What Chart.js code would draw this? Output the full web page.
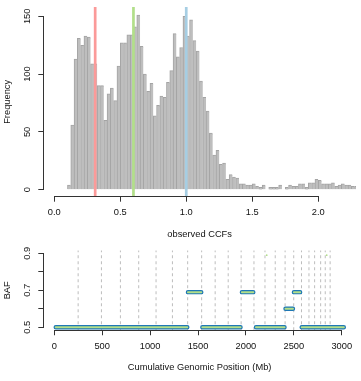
<!DOCTYPE html>
<html>
<head>
<meta charset="utf-8">
<script src="https://cdn.jsdelivr.net/npm/chart.js@4"></script>
<style>
html,body{margin:0;padding:0;background:#fff;}
#wrap{position:relative;width:361px;height:381px;overflow:hidden;}
canvas{position:absolute;left:0;}
#c1{top:0;}
#c2{top:245px;}
</style>
</head>
<body>
<div id="wrap">
<canvas id="c1" width="361" height="245"></canvas>
<canvas id="c2" width="361" height="136"></canvas>
</div>
<script>
// ---------- Data: histogram of observed CCFs ----------
const ccfBinStart = 0.1;
const ccfBinWidth = 0.025;
const ccfCounts = [
  4,56,113,131,125,133,132,109,109,90,90,60,83,88,77,107,127,
  127,134,134,141,151,124,100,85,92,64,73,81,80,93,103,135,115,123,
  150,133,147,129,120,94,80,68,49,30,34,22,23,9,13,11,10,
  5,5,4,4,5,3,2,4,0,2,2,2,4,0,2,4,3,3,
  5,5,2,6,6,9,8,5,5,5,6,3,4,5,4,4,3,3
];
const ccfMarkers = [0.31, 0.6, 1.0];
const ccfMarkerColors = ['#FB9A99', '#B2DF8A', '#A6CEE3'];
const ccfXTicks = [0, 0.5, 1.0, 1.5, 2.0];
const ccfXTickLabels = ['0.0', '0.5', '1.0', '1.5', '2.0'];
const freqYTicks = [0, 50, 100, 150];
const freqYTickLabels = ['0', '50', '100', '150'];

// ---------- Data: BAF segments ----------
const chromBoundaries = [249, 492, 690, 881, 1062, 1233, 1392, 1538, 1679, 1815, 1950,
  2084, 2199, 2306, 2409, 2499, 2580, 2658, 2717, 2780, 2828, 2879];
const segStart = [15, 1395, 1545, 1958, 2105, 2413, 2501, 2582];
const segEnd   = [1388, 1534, 1944, 2077, 2403, 2491, 2566, 3022];
const segBAF   = [0.5, 0.69, 0.5, 0.69, 0.5, 0.6, 0.69, 0.5];
const dotPos = [2217, 2843];
const dotBAF = [0.89, 0.89];
const posXTicks = [0, 500, 1000, 1500, 2000, 2500, 3000];
const posXTickLabels = ['0', '500', '1000', '1500', '2000', '2500', '3000'];
const bafYTicks = [0.5, 0.6, 0.7, 0.8, 0.9];
const bafYTickLabels = ['0.5', '', '0.7', '', '0.9'];

// ---------- Styling ----------
Chart.defaults.font.family = "'Liberation Sans', Arial, Helvetica, sans-serif";
Chart.defaults.font.size = 9.3;
Chart.defaults.color = '#111';

const AXIS_COLOR = '#333';

const rAxisLines = {
  id: 'rAxisLines',
  afterDraw(chart) {
    const {ctx, chartArea: a, scales: {x, y}} = chart;
    const al = p => Math.round(p - 0.5) + 0.5;
    ctx.save();
    ctx.strokeStyle = AXIS_COLOR;
    ctx.lineWidth = 1;
    ctx.beginPath();
    const yb = al(a.bottom);
    ctx.moveTo(al(x.getPixelForValue(x.ticks[0].value)) - 0.5, yb);
    ctx.lineTo(al(x.getPixelForValue(x.ticks[x.ticks.length - 1].value)) + 0.5, yb);
    const xl = al(a.left);
    ctx.moveTo(xl, al(y.getPixelForValue(y.ticks[0].value)) + 0.5);
    ctx.lineTo(xl, al(y.getPixelForValue(y.ticks[y.ticks.length - 1].value)) - 0.5);
    ctx.stroke();
    ctx.restore();
  }
};

function xAxis(min, max, ticks, labels, title, height, tickPad, titlePad) {
  return {
    type: 'linear', min, max, offset: false,
    afterBuildTicks: s => { s.ticks = ticks.map(v => ({value: v})); },
    afterFit: s => { s.height = height; s.paddingLeft = 0; s.paddingRight = 0; },
    ticks: { callback: (v, i) => labels[i], autoSkip: false, maxRotation: 0, minRotation: 0, padding: tickPad },
    grid: { display: true, offset: false, drawOnChartArea: false, drawTicks: true, tickLength: 5, color: AXIS_COLOR, lineWidth: 1 },
    border: { display: false },
    title: { display: true, text: title, padding: { top: 0, bottom: titlePad } }
  };
}
function yAxis(min, max, ticks, labels, title, width, tickPad) {
  return {
    type: 'linear', min, max, offset: false,
    afterBuildTicks: s => { s.ticks = ticks.map(v => ({value: v})); },
    afterFit: s => { s.width = width; s.paddingTop = 0; s.paddingBottom = 0; },
    ticks: { callback: (v, i) => labels[i], autoSkip: false, minRotation: 90, maxRotation: 90, crossAlign: 'center', padding: tickPad },
    grid: { display: true, offset: false, drawOnChartArea: false, drawTicks: true, tickLength: 5, color: AXIS_COLOR, lineWidth: 1 },
    border: { display: false },
    title: { display: true, text: title, padding: { top: 1.4, bottom: 0 } }
  };
}

// ---------- Top chart: histogram ----------
const TOP_YMIN = -6.08, TOP_YMAX = 158.08;
const histData = ccfCounts.map((c, i) => ({ x: ccfBinStart + (i + 0.5) * ccfBinWidth, y: c }));

new Chart(document.getElementById('c1'), {
  type: 'bar',
  data: {
    datasets: [
      ...ccfMarkers.map((v, i) => ({
        type: 'line',
        data: [{ x: v, y: TOP_YMIN }, { x: v, y: TOP_YMAX }],
        borderColor: ccfMarkerColors[i],
        borderWidth: 2.7,
        pointRadius: 0,
        order: 0
      })),
      {
        type: 'bar',
        data: histData,
        backgroundColor: '#BEBEBE',
        borderColor: '#a4a4a4',
        borderWidth: { left: 1, top: 1, right: 0, bottom: 0 },
        borderSkipped: false,
        barPercentage: 1,
        categoryPercentage: 1,
        order: 1
      }
    ]
  },
  options: {
    responsive: false, animation: false, events: [],
    layout: { padding: { top: 7, right: 5, left: 0, bottom: 0 } },
    plugins: { legend: { display: false }, tooltip: { enabled: false } },
    scales: {
      x: xAxis(-0.083, 2.286, ccfXTicks, ccfXTickLabels, 'observed CCFs', 48.3, 5.4, 5.3),
      y: yAxis(TOP_YMIN, TOP_YMAX, freqYTicks, freqYTickLabels, 'Frequency', 43.3, 3.55)
    }
  },
  plugins: [rAxisLines]
});

// ---------- Bottom chart: BAF segments ----------
const BOT_YMIN = 0.484, BOT_YMAX = 0.916;
const boundaryData = chromBoundaries.flatMap(b => [{ x: b, y: BOT_YMIN }, { x: b, y: BOT_YMAX }, { x: b, y: null }]);
const segData = segStart.flatMap((s, i) => [{ x: s, y: segBAF[i] }, { x: segEnd[i], y: segBAF[i] }, { x: segEnd[i], y: null }]);
const dotData = dotPos.map((p, i) => ({ x: p, y: dotBAF[i] }));

new Chart(document.getElementById('c2'), {
  type: 'line',
  data: {
    datasets: [
      { data: dotData, showLine: false, pointRadius: 0.9, pointBackgroundColor: '#B2DF8A', pointBorderWidth: 0, order: 0 },
      { data: segData, borderColor: '#B2DF8A', borderWidth: 2, borderCapStyle: 'round', pointRadius: 0, spanGaps: false, order: 1 },
      { data: segData, borderColor: '#1F78B4', borderWidth: 4.4, borderCapStyle: 'round', pointRadius: 0, spanGaps: false, order: 2 },
      { data: boundaryData, borderColor: '#BDBDBD', borderWidth: 1, borderDash: [3, 3], pointRadius: 0, spanGaps: false, order: 3 }
    ]
  },
  options: {
    responsive: false, animation: false, events: [],
    layout: { padding: { top: 5.34, right: 5, left: 0, bottom: 0 } },
    plugins: { legend: { display: false }, tooltip: { enabled: false } },
    scales: {
      x: xAxis(-114.8, 3149, posXTicks, posXTickLabels, 'Cumulative Genomic Position (Mb)', 50.74, 5.4, 7.7),
      y: yAxis(BOT_YMIN, BOT_YMAX, bafYTicks, bafYTickLabels, 'BAF', 43.3, 4.85)
    }
  },
  plugins: [rAxisLines]
});
</script>
</body>
</html>
